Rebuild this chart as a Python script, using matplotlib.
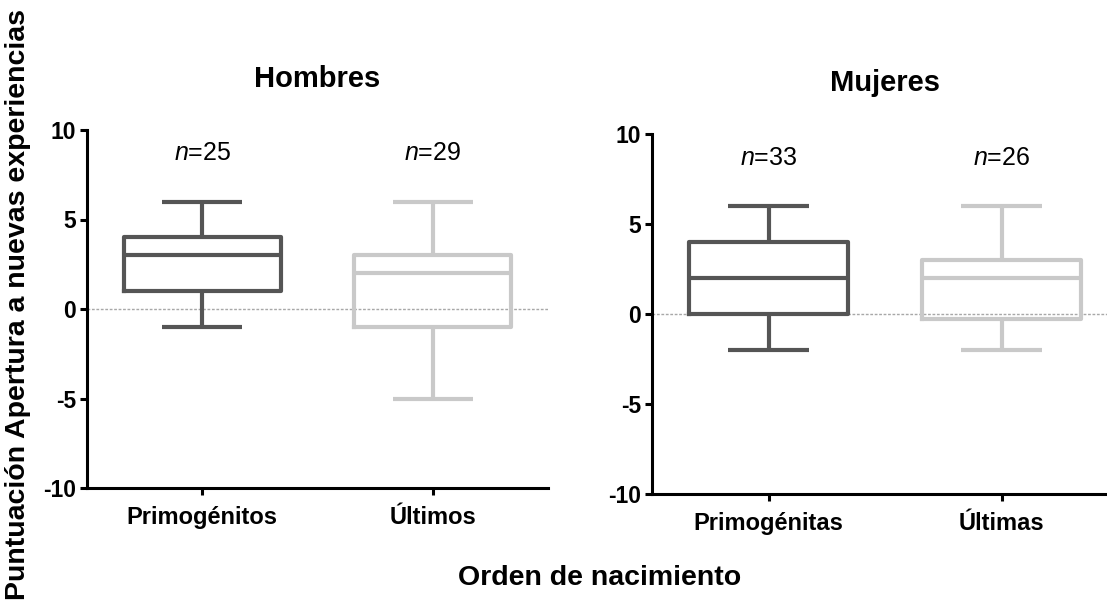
import matplotlib
matplotlib.use("Agg")
import matplotlib.pyplot as plt

plt.rcParams['font.family'] = ['Liberation Sans', 'DejaVu Sans']
plt.rcParams['mathtext.fontset'] = 'custom'
plt.rcParams['mathtext.it'] = 'Liberation Sans:italic'
plt.rcParams['mathtext.rm'] = 'Liberation Sans'

# Box-plot summaries (whisker low, Q1, median, Q3, whisker high)
panel_titles = ["Hombres", "Mujeres"]
categories = [["Primogénitos", "Últimos"], ["Primogénitas", "Últimas"]]
sample_sizes = [[25, 29], [33, 26]]
whisker_low = [[-1, -5], [-2, -2]]
q1_values = [[1, -1], [0, -0.25]]
medians = [[3, 2], [2, 2]]
q3_values = [[4, 3], [4, 3]]
whisker_high = [[6, 6], [6, 6]]
y_ticks = [-10, -5, 0, 5, 10]

box_colors = ["#555555", "#c9c9c9"]

W, H = 1107, 610
fig = plt.figure(figsize=(W / 100, H / 100), dpi=100)

# axes rectangles in pixels: left, top, right, bottom
rects = [(87, 130, 548, 488), (652, 134, 1118, 494)]

for p, (l, t, r, b) in enumerate(rects):
    ax = fig.add_axes([l / W, 1 - b / H, (r - l) / W, (b - t) / H])
    ax.axhline(0, color="#a8a8a8", lw=1.0, ls=(0, (2, 1.2)), zorder=0)
    for i in range(2):
        stats = [dict(med=medians[p][i], q1=q1_values[p][i], q3=q3_values[p][i],
                      whislo=whisker_low[p][i], whishi=whisker_high[p][i])]
        c = box_colors[i]
        lp = dict(color=c, linewidth=3.0, solid_capstyle="butt")
        ax.bxp(stats, positions=[i + 1], widths=0.68, capwidths=0.345,
               showfliers=False, manage_ticks=False,
               boxprops=dict(color=c, linewidth=3.0),
               medianprops=lp, whiskerprops=lp, capprops=lp)
        ax.text(i + 1, 8.3, "$n$=%d" % sample_sizes[p][i], ha="center",
                va="baseline", fontsize=18)
    ax.set_xlim(0.5, 2.5)
    ax.set_ylim(-10, 10)
    ax.set_xticks([1, 2])
    ax.set_xticklabels(categories[p], fontsize=17, fontweight="bold")
    ax.set_yticks(y_ticks)
    ax.set_yticklabels([str(v) for v in y_ticks], fontsize=16.5, fontweight="bold")
    for s in ("top", "right"):
        ax.spines[s].set_visible(False)
    for s in ("left", "bottom"):
        ax.spines[s].set_linewidth(2.2)
    ax.tick_params(axis="both", length=5, width=2.2, direction="out")
    ax.tick_params(axis="x", pad=8)
    ax.tick_params(axis="y", pad=3)
    ax.set_title(panel_titles[p], fontsize=21, fontweight="bold", pad=31)

fig.text(18 / W, 1 - 305 / H, "Puntuación Apertura a nuevas experiencias",
         rotation=90, ha="center", va="center", fontsize=20.5, fontweight="bold")
fig.text(600 / W, 1 - 585 / H, "Orden de nacimiento", ha="center",
         va="baseline", fontsize=20.5, fontweight="bold")

fig.savefig("out.png", dpi=100)
